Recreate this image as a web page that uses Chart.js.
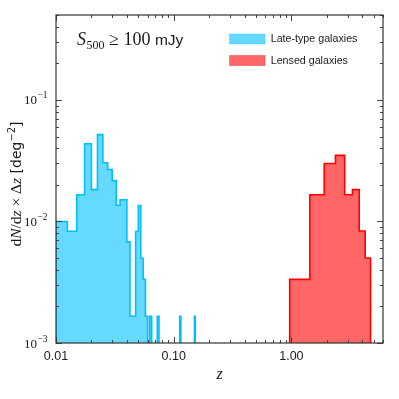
<!DOCTYPE html>
<html><head><meta charset="utf-8">
<script src="https://cdn.jsdelivr.net/npm/chart.js@4.4.1/dist/chart.umd.min.js"></script>
<style>html,body{margin:0;padding:0;background:#fff;}canvas{display:block;}</style>
</head><body>
<canvas id="c" width="399" height="399"></canvas>
<script>
// ---- data ----
const seriesLabels = ['Late-type galaxies', 'Lensed galaxies'];
// bin edges (z) and heights (dN/dz x dz, deg^-2); 0 = empty bin
const lateEdges = [0.0100,0.0125,0.0150,0.0175,0.0200,0.0225,0.0250,0.0275,0.0300,0.0325,0.0350,0.0375,0.0400,0.0425,0.0450,0.0475,0.0500,0.0525,0.0550,0.0575,0.0600,0.0625,0.0650,0.0725,0.0750,0.1125,0.1150,0.1500,0.1525];
const lateValues = [0.0100,0.0083,0.0166,0.0436,0.0183,0.0518,0.0304,0.0267,0.0217,0.0136,0.0151,0.0151,0.0068,0.00166,0.00166,0.00827,0.0135,0.00498,0.00334,0.00166,0,0.00166,0,0.00166,0,0.00166,0,0.00166];
const lensEdges = [0.967,1.434,1.900,2.367,2.834,3.300,3.767,4.234,4.700];
const lensValues = [0.00334,0.0166,0.0300,0.0350,0.0166,0.0183,0.00835,0.00500];
const xTickValues = [0.01, 0.1, 1];
const xTickLabels = ['0.01', '0.10', '1.00'];
const yTickValues = [0.001, 0.01, 0.1];
const yTickExponents = ['\u22123', '\u22122', '\u22121'];

const FLOOR = 1e-6; // empty bins drawn below the axis (clipped)
function stepPoints(edges, values) {
  const pts = [{x: edges[0], y: FLOOR}];
  values.forEach((v, i) => pts.push({x: edges[i], y: v > 0 ? v : FLOOR}));
  pts.push({x: edges[edges.length - 1], y: FLOOR});
  return pts;
}

const fills = ['rgba(0,191,255,0.6)', 'rgba(255,0,0,0.6)'];
const borders = ['rgb(0,191,255)', 'rgb(255,0,0)'];

function drawRuns(ctx, runs, x, y, measureOnly) {
  let cx = x;
  for (const r of runs) {
    ctx.font = r.f;
    if (!measureOnly) ctx.fillText(r.t, cx + (r.dx || 0), y + (r.dy || 0));
    cx += ctx.measureText(r.t).width + (r.dx || 0);
  }
  return cx - x;
}

const overlay = {
  id: 'overlay',
  afterDraw(chart) {
    const {ctx, chartArea: a, scales: {x, y}} = chart;
    ctx.save();
    ctx.strokeStyle = '#444';
    ctx.lineWidth = 1;
    const seg = (x1, y1, x2, y2) => { ctx.beginPath(); ctx.moveTo(x1, y1); ctx.lineTo(x2, y2); ctx.stroke(); };
    // x ticks (bottom and top, inward)
    for (let d = -2; d <= 0; d++) for (let k = 1; k <= 9; k++) {
      const v = k * Math.pow(10, d);
      if (v < x.min * 0.999 || v > x.max) continue;
      const px = Math.round(x.getPixelForValue(v)) + 0.5;
      const L = k === 1 ? 6 : 3;
      seg(px, a.bottom, px, a.bottom - L);
      seg(px, a.top, px, a.top + L);
    }
    // y ticks (left and right, inward)
    for (let d = -3; d <= -1; d++) for (let k = 1; k <= 9; k++) {
      const v = k * Math.pow(10, d);
      if (v < y.min * 0.999 || v > y.max) continue;
      const py = Math.round(y.getPixelForValue(v)) + 0.5;
      const L = k === 1 ? 6 : 3;
      seg(a.left, py, a.left + L, py);
      seg(a.right, py, a.right - L, py);
    }
    // frame
    ctx.lineWidth = 1.2;
    ctx.strokeStyle = '#333';
    ctx.strokeRect(a.left, a.top, a.right - a.left, a.bottom - a.top);

    ctx.fillStyle = '#1a1a1a';
    // x tick labels
    ctx.font = '12.5px "Liberation Sans"';
    ctx.textAlign = 'center';
    ctx.textBaseline = 'middle';
    xTickValues.forEach((v, i) => ctx.fillText(xTickLabels[i], x.getPixelForValue(v), 357));
    // y tick labels 10^n
    ctx.textAlign = 'left';
    ctx.textBaseline = 'alphabetic';
    yTickValues.forEach((v, i) => {
      const py = y.getPixelForValue(v);
      const runs = [{t: '10', f: '13px "Liberation Serif"'}, {t: yTickExponents[i], f: '9.5px "Liberation Serif"', dy: -6, dx: 0.5}];
      const w = drawRuns(ctx, runs, 0, 0, true);
      drawRuns(ctx, runs, 47.5 - w, py + 4.5);
    });
    // x axis title
    ctx.textAlign = 'center';
    ctx.font = 'italic 16px "Liberation Serif"';
    ctx.fillText('z', (a.left + a.right) / 2, 379);
    // y axis title (rotated)
    ctx.textAlign = 'left';
    const yl = [
      {t: 'd', f: '15.5px "Liberation Serif"'},
      {t: 'N', f: 'italic 15.5px "Liberation Serif"'},
      {t: '/', f: '15.5px "Liberation Serif"'},
      {t: 'd', f: '15.5px "Liberation Serif"'},
      {t: 'z', f: 'italic 15.5px "Liberation Serif"'},
      {t: ' \u00d7 ', f: '15.5px "Liberation Serif"'},
      {t: '\u0394', f: '15.5px "Liberation Serif"'},
      {t: 'z', f: 'italic 15.5px "Liberation Serif"'},
      {t: ' [deg', f: '14px "DejaVu Sans"'},
      {t: '\u22122', f: '10px "DejaVu Sans"', dy: -6},
      {t: ']', f: '14px "DejaVu Sans"'}
    ];
    const wl = drawRuns(ctx, yl, 0, 0, true);
    ctx.save();
    ctx.translate(21, 184);
    ctx.rotate(-Math.PI / 2);
    drawRuns(ctx, yl, -wl / 2, 0);
    ctx.restore();
    // annotation
    const title = [
      {t: 'S', f: 'italic 18px "Liberation Serif"'},
      {t: '500', f: '12px "Liberation Serif"', dy: 3.5, dx: 0.5},
      {t: ' \u2265 100 ', f: '18px "Liberation Serif"'},
      {t: 'mJy', f: '15.5px "Liberation Sans"'}
    ];
    drawRuns(ctx, title, 77, 45);
    // legend
    const boxX = 229.5, boxW = 35.5, boxH = 10, rows = [34, 55.5];
    seriesLabels.forEach((lab, i) => {
      ctx.fillStyle = fills[i];
      ctx.fillRect(boxX, rows[i], boxW, boxH);
      ctx.strokeStyle = borders[i];
      ctx.globalAlpha = 0.35;
      ctx.lineWidth = 1;
      ctx.strokeRect(boxX, rows[i], boxW, boxH);
      ctx.globalAlpha = 1;
      ctx.fillStyle = '#1a1a1a';
      ctx.font = '10.7px "Liberation Sans"';
      ctx.textBaseline = 'middle';
      ctx.fillText(lab, 270.7, rows[i] + boxH / 2 + 0.5);
      ctx.textBaseline = 'alphabetic';
    });
    ctx.restore();
  }
};

new Chart(document.getElementById('c'), {
  type: 'scatter',
  data: {
    datasets: [
      {label: seriesLabels[0], data: stepPoints(lateEdges, lateValues), showLine: true, stepped: true,
       borderColor: borders[0], backgroundColor: fills[0], borderWidth: 1.6, pointRadius: 0, fill: 'start'},
      {label: seriesLabels[1], data: stepPoints(lensEdges, lensValues), showLine: true, stepped: true,
       borderColor: borders[1], backgroundColor: fills[1], borderWidth: 1.6, pointRadius: 0, fill: 'start'}
    ]
  },
  options: {
    responsive: false,
    animation: false,
    layout: {padding: {left: 56, right: 16, top: 15, bottom: 56}},
    plugins: {legend: {display: false}, tooltip: {enabled: false}},
    scales: {
      x: {type: 'logarithmic', min: 0.01, max: 6, display: false},
      y: {type: 'logarithmic', min: 0.001, max: 0.5, display: false}
    }
  },
  plugins: [overlay]
});
</script>
</body></html>
